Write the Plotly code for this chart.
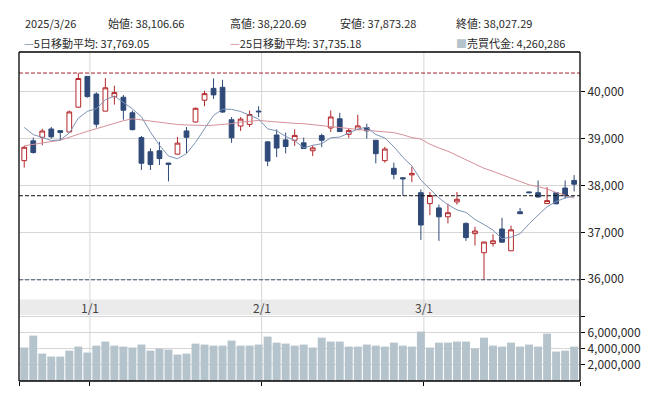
import datetime as dt
import plotly.graph_objects as go

# ---------------- data ----------------
dates = ["2024-12-19", "2024-12-20", "2024-12-23", "2024-12-24", "2024-12-25", "2024-12-26",
         "2024-12-27", "2024-12-30", "2025-01-06", "2025-01-07", "2025-01-08", "2025-01-09",
         "2025-01-10", "2025-01-14", "2025-01-15", "2025-01-16", "2025-01-17", "2025-01-20",
         "2025-01-21", "2025-01-22", "2025-01-23", "2025-01-24", "2025-01-27", "2025-01-28",
         "2025-01-29", "2025-01-30", "2025-01-31", "2025-02-03", "2025-02-04", "2025-02-05",
         "2025-02-06", "2025-02-07", "2025-02-10", "2025-02-12", "2025-02-13", "2025-02-14",
         "2025-02-17", "2025-02-18", "2025-02-19", "2025-02-20", "2025-02-21", "2025-02-25",
         "2025-02-26", "2025-02-27", "2025-02-28", "2025-03-03", "2025-03-04", "2025-03-05",
         "2025-03-06", "2025-03-07", "2025-03-10", "2025-03-11", "2025-03-12", "2025-03-13",
         "2025-03-14", "2025-03-17", "2025-03-18", "2025-03-19", "2025-03-21", "2025-03-24",
         "2025-03-25", "2025-03-26"]

opens = [38529, 38951, 39027, 39205, 39169, 39141, 39670, 40326, 39951, 39586, 39894, 39882,
         39550, 39021, 38719, 38740, 38478, 38668, 39163, 39353, 39818, 40072, 40093, 39402,
         39268, 39302, 39586, 38930, 39076, 38972, 38964, 38909, 38740, 39063, 39226, 39423,
         39091, 39190, 39233, 38964, 38529, 38366, 38165, 38225, 37845, 37613, 37521, 37331,
         37648, 37190, 36972, 36564, 36761, 37071, 36606, 37437, 37862, 37845, 37613, 37845,
         37944, 38106.66]
highs = [38840, 39021, 39211, 39247, 39175, 39598, 40398, 40330, 39987, 40289, 40127, 39930,
         39598, 39057, 38789, 38930, 38480, 39036, 39247, 39660, 40021, 40283, 40254, 39459,
         39459, 39598, 39691, 38935, 39197, 39127, 39197, 39021, 38858, 39106, 39598, 39550,
         39211, 39507, 39317, 38970, 38825, 38486, 38170, 38402, 37915, 37859, 37592, 37613,
         37859, 37211, 37120, 36800, 36958, 37310, 37141, 37521, 37865, 38106, 37965, 37850,
         38106, 38220.69]
lows = [38381, 38680, 38858, 39000, 38964, 39130, 39660, 39873, 39233, 39580, 39725, 39402,
        39175, 38330, 38330, 38436, 38085, 38660, 38683, 39345, 39691, 39846, 39550, 38909,
        39163, 39247, 39459, 38415, 38605, 38683, 38845, 38780, 38626, 38816, 39141, 39140,
        39015, 39185, 39000, 38471, 38486, 38133, 37780, 38070, 36838, 37366, 36817, 37190,
        37592, 36817, 36719, 35987, 36698, 36785, 36600, 37390, 37840, 37745, 37610, 37600,
        37718, 37873.28]
closes = [38814, 38702, 39161, 39037, 39130, 39568, 40281, 39895, 39307, 40083, 39981, 39605,
          39190, 38474, 38445, 38573, 38451, 38903, 39028, 39646, 39959, 39932, 39566, 39017,
          39415, 39514, 39572, 38520, 38798, 38831, 39067, 38787, 38801, 38964, 39461, 39149,
          39174, 39270, 39165, 38678, 38777, 38238, 38142, 38256, 37156, 37785, 37331, 37418,
          37705, 36887, 37028, 36793, 36819, 36790, 37053, 37397, 37845, 37752, 37677, 37608,
          37781, 38027.29]
ma5 = [39238, 39084, 39025, 38959, 38969, 39120, 39435, 39582, 39636, 39827, 39909, 39774,
       39633, 39467, 39139, 38857, 38627, 38569, 38680, 38920, 39197, 39494, 39626, 39624,
       39578, 39489, 39417, 39208, 39164, 39047, 38958, 38801, 38857, 38890, 39016, 39032,
       39110, 39204, 39244, 39087, 39013, 38826, 38600, 38418, 38114, 37915, 37734, 37589,
       37479, 37425, 37274, 37166, 37046, 36863, 36897, 36970, 37181, 37367, 37545, 37656,
       37733, 37769.05]
ma25 = [38846, 38880, 38910, 38935, 38964, 39030, 39090, 39155, 39210, 39270, 39330, 39380,
        39423, 39400, 39380, 39350, 39320, 39300, 39290, 39281, 39280, 39285, 39296, 39320,
        39350, 39375, 39387, 39370, 39350, 39335, 39325, 39317, 39295, 39270, 39247, 39230,
        39210, 39195, 39176, 39160, 39145, 39127, 39080, 39021, 38990, 38880, 38800, 38730,
        38640, 38550, 38460, 38366, 38300, 38224, 38150, 38080, 38013, 37975, 37925, 37850,
        37790, 37735.18]
volumes = [4.15, 5.63, 3.40, 3.03, 3.03, 3.77, 4.27, 3.53, 4.39, 4.89, 4.39, 4.27, 4.15, 4.52,
           3.77, 4.02, 3.90, 3.28, 3.40, 4.64, 4.52, 4.39, 4.39, 5.01, 4.39, 4.39, 4.52, 5.51,
           4.76, 4.64, 4.39, 4.52, 4.15, 5.38, 4.89, 4.89, 4.27, 4.27, 4.52, 4.39, 4.27, 4.76,
           4.39, 4.27, 6.13, 4.15, 4.76, 4.76, 4.89, 4.89, 4.02, 5.38, 4.39, 4.27, 4.76, 4.27,
           4.52, 4.27, 5.88, 3.65, 3.77, 4.260286]  # millions

prev_close = 37780.54
period_high = 40398.23
period_low = 35987.13

price_ticks = [36000, 37000, 38000, 39000, 40000]
volume_ticks = [2_000_000, 4_000_000, 6_000_000, 8_000_000]
volume_tick_labels = ["2,000,000", "4,000,000", "6,000,000", ""]
month_labels = ["1/1", "2/1", "3/1"]
month_dates = ["2025-01-01", "2025-02-01", "2025-03-01"]

header_row1 = ["2025/3/26", "始値: 38,106.66", "高値: 38,220.69", "安値: 37,873.28", "終値: 38,027.29"]
label_ma5 = "5日移動平均: 37,769.05"
label_ma25 = "25日移動平均: 37,735.18"
label_vol = "売買代金: 4,260,286"

# ---------------- styling ----------------
RED = "#b3262b"
NAVY = "#2f4a78"
MA5_C = "#7d93b6"
MA25_C = "#d4919b"
VOL_C = "#b5c3cc"
GRID = "#d6d6d6"
FONT = "Noto Sans CJK JP, Noto Sans, sans-serif"
TXT = "#2a2a2a"

W, H = 653, 397
L, R, T, B = 19, 73, 52, 13
PW, PH = W - L - R, H - T - B


def px(xp):
    return (xp - L) / PW


def py(yp):
    return (H - B - yp) / PH


price_bottom = py(301.7)
vol_top = py(317.3)

idx = list(range(len(dates)))
vols = [v * 1_000_000 for v in volumes]

# month gridline positions by calendar interpolation between trading days
dts = [dt.date.fromisoformat(d) for d in dates]


def month_pos(dstr):
    d = dt.date.fromisoformat(dstr)
    for i in range(len(dts) - 1):
        if dts[i] <= d <= dts[i + 1]:
            return i + (d - dts[i]).days / (dts[i + 1] - dts[i]).days
    return None


month_x = [month_pos(m) for m in month_dates]

fig = go.Figure()

fig.add_trace(go.Candlestick(
    x=idx, open=opens, high=highs, low=lows, close=closes,
    increasing=dict(line=dict(color=RED, width=1), fillcolor="#ffffff"),
    decreasing=dict(line=dict(color=NAVY, width=1), fillcolor=NAVY),
    whiskerwidth=0, showlegend=False, hoverinfo="skip",
    xaxis="x", yaxis="y",
))
fig.add_trace(go.Scatter(x=idx, y=ma25, mode="lines", line=dict(color=MA25_C, width=1),
                         showlegend=False, hoverinfo="skip", xaxis="x", yaxis="y"))
fig.add_trace(go.Scatter(x=idx, y=ma5, mode="lines", line=dict(color=MA5_C, width=1),
                         showlegend=False, hoverinfo="skip", xaxis="x", yaxis="y"))
fig.add_trace(go.Bar(x=idx, y=vols, marker=dict(color=VOL_C, line=dict(width=0)), width=0.88,
                     showlegend=False, hoverinfo="skip", xaxis="x2", yaxis="y2"))

xr = [-0.58, len(dates) - 1 + 0.65]

shapes = []
# gray label band
shapes.append(dict(type="rect", xref="paper", yref="paper", x0=0, x1=1, y0=vol_top, y1=price_bottom,
                   fillcolor="#ebebeb", line=dict(width=0), layer="below"))
# month gridlines
for mx in month_x:
    shapes.append(dict(type="line", xref="x", yref="paper", x0=mx, x1=mx, y0=0, y1=1,
                       line=dict(color=GRID, width=1), layer="below"))
# reference dashed lines
for val, col in [(period_high, "#a3242b"), (prev_close, "#111111"), (period_low, "#3e5170")]:
    shapes.append(dict(type="line", xref="paper", yref="y", x0=0, x1=1, y0=val, y1=val,
                       line=dict(color=col, width=1, dash="4px,2px")))
# frame
for (x0, y0, x1, y1) in [(0, 0, 1, 0), (0, 1, 1, 1), (0, 0, 0, 1), (1, 0, 1, 1)]:
    shapes.append(dict(type="line", xref="paper", yref="paper", x0=x0, x1=x1, y0=y0, y1=y1,
                       line=dict(color="#000000", width=1.3)))

annotations = []
for lab, mx in zip(month_labels, month_x):
    annotations.append(dict(text=lab, x=mx, xref="x", y=(price_bottom + vol_top) / 2, yref="paper",
                            showarrow=False, xanchor="center", yanchor="middle",
                            font=dict(family=FONT, size=12, color="#444444")))

row1_x = [23, 106, 228, 338, 454]
for t, xp in zip(header_row1, row1_x):
    annotations.append(dict(text=t, x=px(xp), y=py(23), xref="paper", yref="paper",
                            showarrow=False, xanchor="left", yanchor="middle",
                            font=dict(family=FONT, size=11, color=TXT)))
row2 = [(label_ma5, 22, MA5_C, "—"), (label_ma25, 228, MA25_C, "—"), (label_vol, 454, VOL_C, "■")]
for t, xp, col, sym in row2:
    annotations.append(dict(text=f"<span style='color:{col}'>{sym}</span>{t}", x=px(xp), y=py(43),
                            xref="paper", yref="paper", showarrow=False, xanchor="left",
                            yanchor="middle", font=dict(family=FONT, size=11, color=TXT)))

fig.update_layout(
    width=W, height=H,
    margin=dict(l=L, r=R, t=T, b=B, pad=0),
    paper_bgcolor="#ffffff", plot_bgcolor="#ffffff",
    showlegend=False, boxgap=0.25,
    shapes=shapes, annotations=annotations,
    xaxis=dict(domain=[0, 1], range=xr, anchor="y", showgrid=False, zeroline=False,
               showticklabels=False, ticks="", rangeslider=dict(visible=False), showline=False),
    yaxis=dict(domain=[price_bottom, 1], range=[35568, 40847], side="right", anchor="x",
               tickvals=price_ticks, ticktext=[f"{v:,}" for v in price_ticks],
               showgrid=True, gridcolor=GRID, gridwidth=1, zeroline=False,
               ticks="outside", ticklen=4, tickcolor="#000000", showline=False,
               tickfont=dict(family=FONT, size=12, color=TXT)),
    xaxis2=dict(domain=[0, 1], range=xr, anchor="y2", matches="x", showgrid=False, zeroline=False,
                showticklabels=False, ticks="outside", ticklen=4, tickcolor="#000000",
                tickvals=[xr[0]] + month_x + [xr[1]], showline=False),
    yaxis2=dict(domain=[0, vol_top], range=[0, 8.2e6], side="right", anchor="x2",
                tickvals=volume_ticks, ticktext=volume_tick_labels,
                showgrid=True, gridcolor=GRID, gridwidth=1, zeroline=False,
                ticks="outside", ticklen=4, tickcolor="#000000", showline=False,
                tickfont=dict(family=FONT, size=12, color=TXT)),
)

fig.write_html("out.html", config={"displayModeBar": False},
               post_script="document.body.style.margin='0';")
